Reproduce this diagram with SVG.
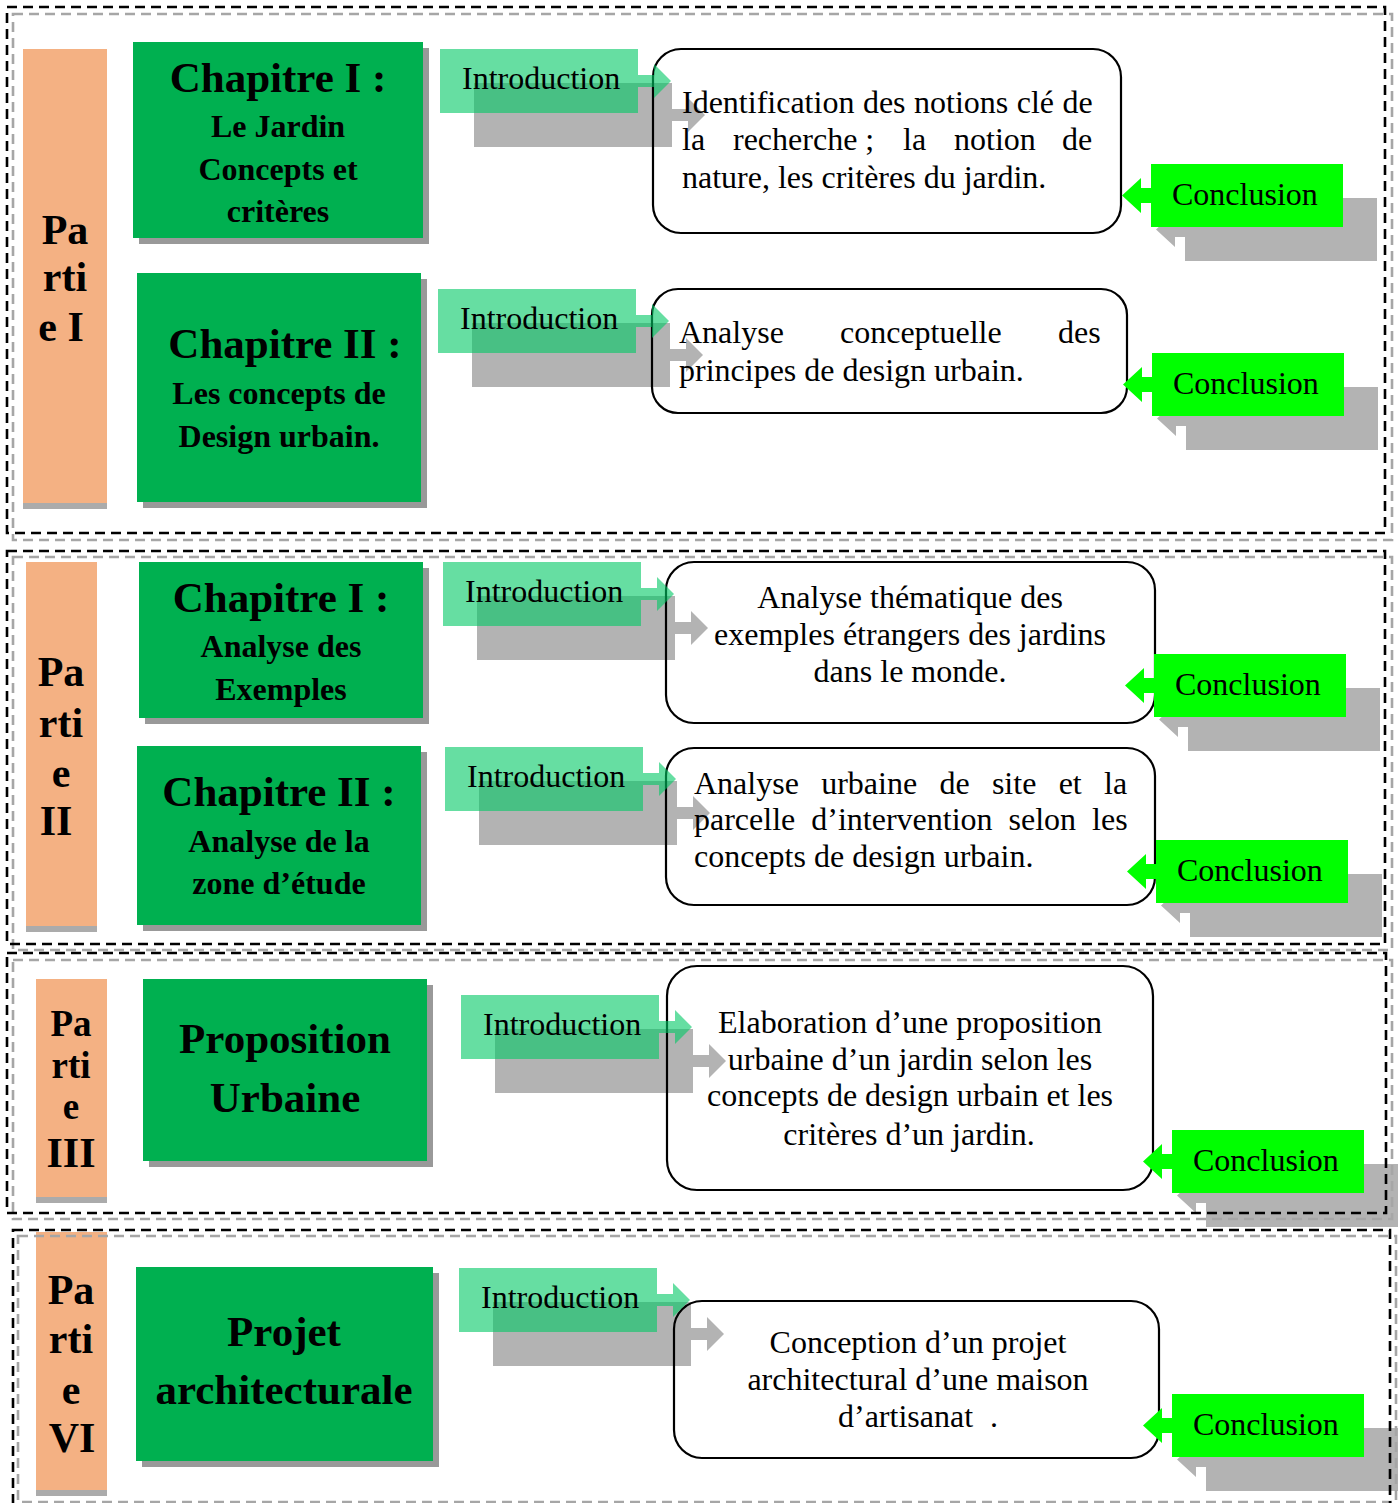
<svg xmlns="http://www.w3.org/2000/svg" width="1398" height="1503" viewBox="0 0 1398 1503">
<style>
.bg{fill:#fff}
.part{fill:#F4B183}
.partsh{fill:#ABABAB}
.chap{fill:#00B050}
.chapsh{fill:#999999}
.ash{fill:#B3B3B3}
.intro{fill:#00C864;fill-opacity:0.6}
.concl{fill:#00FF00}
.box{fill:none;stroke:#000;stroke-width:2.2}
.bd{fill:none;stroke:#000;stroke-width:2.6;stroke-dasharray:10 6}
.bg2{fill:none;stroke:#A6A6A6;stroke-width:2.6;stroke-dasharray:10 6}
.t{font-family:"Liberation Serif","Times New Roman",serif;font-size:32px;fill:#000}
.c{text-anchor:middle}
.pb{font-family:"Liberation Serif","Times New Roman",serif;font-weight:bold;font-size:42px;text-anchor:middle;fill:#000}
.h{font-family:"Liberation Serif","Times New Roman",serif;font-weight:bold;font-size:43px;text-anchor:middle;fill:#000}
.s{font-family:"Liberation Serif","Times New Roman",serif;font-weight:bold;font-size:32px;text-anchor:middle;fill:#000}
</style>
<defs>
<path id="ia" d="M0,0 H198 V26 H214 V15 L231,32 L214,49 V38 H198 V64 H0 Z"/>
<path id="ca" d="M0,0 H192 V63 H0 V39 H-10 V49 L-29,31.5 L-10,14 V24 H0 Z"/>
</defs>
<rect class="bg" x="0" y="0" width="1398" height="1503"/>

<g id="shadows">
<use href="#ia" class="ash" x="474" y="83"/>
<use href="#ia" class="ash" x="472" y="323"/>
<use href="#ia" class="ash" x="477" y="596"/>
<use href="#ia" class="ash" x="479" y="781"/>
<use href="#ia" class="ash" x="495" y="1029"/>
<use href="#ia" class="ash" x="493" y="1302"/>
<use href="#ca" class="ash" x="1185" y="198"/>
<use href="#ca" class="ash" x="1186" y="387"/>
<use href="#ca" class="ash" x="1188" y="688"/>
<use href="#ca" class="ash" x="1190" y="874"/>
<use href="#ca" class="ash" x="1206" y="1164"/>
<use href="#ca" class="ash" x="1206" y="1428"/>
</g>

<g id="partie1">
<rect class="partsh" x="23" y="55" width="84" height="454"/>
<rect class="part" x="23" y="49" width="84" height="454"/>
<text class="pb" x="65" y="244">Pa</text>
<text class="pb" x="65" y="291">rti</text>
<text class="pb" x="61" y="341">e I</text>
</g>
<g id="p1-chap1">
<rect class="chapsh" x="139" y="48" width="290" height="196"/>
<rect class="chap" x="133" y="42" width="290" height="196"/>
<text class="h" x="278" y="92">Chapitre I :</text>
<text class="s" x="278" y="137">Le Jardin</text>
<text class="s" x="278" y="180">Concepts et</text>
<text class="s" x="278" y="222">critères</text>
</g>
<g id="p1-chap2">
<rect class="chapsh" x="143" y="279" width="284" height="229"/>
<rect class="chap" x="137" y="273" width="284" height="229"/>
<text class="h" x="285" y="358">Chapitre II :</text>
<text class="s" x="279" y="404">Les concepts de</text>
<text class="s" x="279" y="447">Design urbain.</text>
</g>
<g id="p1-box1">
<rect class="box" x="653" y="49" width="468" height="184" rx="28"/>
</g>
<g id="p1-box2">
<rect class="box" x="652" y="289" width="475" height="124" rx="26"/>
</g>

<g id="partie2">
<rect class="partsh" x="26" y="568" width="71" height="364"/>
<rect class="part" x="26" y="562" width="71" height="364"/>
<text class="pb" x="61" y="686">Pa</text>
<text class="pb" x="61" y="737">rti</text>
<text class="pb" x="61" y="787">e</text>
<text class="pb" x="56" y="835">II</text>
</g>
<g id="p2-chap1">
<rect class="chapsh" x="145" y="568" width="284" height="156"/>
<rect class="chap" x="139" y="562" width="284" height="156"/>
<text class="h" x="281" y="612">Chapitre I :</text>
<text class="s" x="281" y="657">Analyse des</text>
<text class="s" x="281" y="700">Exemples</text>
</g>
<g id="p2-chap2">
<rect class="chapsh" x="143" y="752" width="284" height="179"/>
<rect class="chap" x="137" y="746" width="284" height="179"/>
<text class="h" x="279" y="806">Chapitre II :</text>
<text class="s" x="279" y="852">Analyse de la</text>
<text class="s" x="279" y="894">zone d’étude</text>
</g>
<g id="p2-box1">
<rect class="box" x="666" y="562" width="489" height="161" rx="28"/>
</g>
<g id="p2-box2">
<rect class="box" x="666" y="748" width="489" height="157" rx="28"/>
</g>

<g id="partie3">
<rect class="partsh" x="36" y="985" width="71" height="218"/>
<rect class="part" x="36" y="979" width="71" height="218"/>
<text class="pb" x="71" y="1036" style="font-size:37px">Pa</text>
<text class="pb" x="71" y="1078" style="font-size:37px">rti</text>
<text class="pb" x="71" y="1119" style="font-size:37px">e</text>
<text class="pb" x="71" y="1167">III</text>
</g>
<g id="p3-chap">
<rect class="chapsh" x="149" y="985" width="284" height="182"/>
<rect class="chap" x="143" y="979" width="284" height="182"/>
<text class="h" x="285" y="1053">Proposition</text>
<text class="h" x="285" y="1112">Urbaine</text>
</g>
<g id="p3-box">
<rect class="box" x="667" y="966" width="486" height="224" rx="30"/>
</g>

<g id="partie4">
<rect class="partsh" x="36" y="1238" width="71" height="258"/>
<rect class="part" x="36" y="1232" width="71" height="258"/>
<text class="pb" x="71" y="1304">Pa</text>
<text class="pb" x="71" y="1353">rti</text>
<text class="pb" x="71" y="1404">e</text>
<text class="pb" x="72" y="1452">VI</text>
</g>
<g id="p4-chap">
<rect class="chapsh" x="142" y="1273" width="297" height="194"/>
<rect class="chap" x="136" y="1267" width="297" height="194"/>
<text class="h" x="284" y="1346">Projet</text>
<text class="h" x="284" y="1404">architecturale</text>
</g>
<g id="p4-box">
<rect class="box" x="674" y="1301" width="485" height="157" rx="28"/>
</g>

<g id="connectors">
<g id="intro1"><use href="#ia" class="intro" x="440" y="49"/><text class="t" x="462" y="89">Introduction</text></g>
<g id="intro2"><use href="#ia" class="intro" x="438" y="289"/><text class="t" x="460" y="329">Introduction</text></g>
<g id="intro3"><use href="#ia" class="intro" x="443" y="562"/><text class="t" x="465" y="602">Introduction</text></g>
<g id="intro4"><use href="#ia" class="intro" x="445" y="747"/><text class="t" x="467" y="787">Introduction</text></g>
<g id="intro5"><use href="#ia" class="intro" x="461" y="995"/><text class="t" x="483" y="1035">Introduction</text></g>
<g id="intro6"><use href="#ia" class="intro" x="459" y="1268"/><text class="t" x="481" y="1308">Introduction</text></g>
<g id="concl1"><use href="#ca" class="concl" x="1151" y="164"/><text class="t" x="1172" y="205">Conclusion</text></g>
<g id="concl2"><use href="#ca" class="concl" x="1152" y="353"/><text class="t" x="1173" y="394">Conclusion</text></g>
<g id="concl3"><use href="#ca" class="concl" x="1154" y="654"/><text class="t" x="1175" y="695">Conclusion</text></g>
<g id="concl4"><use href="#ca" class="concl" x="1156" y="840"/><text class="t" x="1177" y="881">Conclusion</text></g>
<g id="concl5"><use href="#ca" class="concl" x="1172" y="1130"/><text class="t" x="1193" y="1171">Conclusion</text></g>
<g id="concl6"><use href="#ca" class="concl" x="1172" y="1394"/><text class="t" x="1193" y="1435">Conclusion</text></g>
</g>

<g id="box-texts">
<text class="t" x="682" y="113" word-spacing="0.5">Identification des notions clé de</text>
<text class="t" y="150"><tspan x="682">la</tspan><tspan x="733">recherche ;</tspan><tspan x="903">la</tspan><tspan x="954">notion</tspan><tspan x="1062">de</tspan></text>
<text class="t" x="682" y="188">nature, les critères du jardin.</text>
<text class="t" y="343"><tspan x="679">Analyse</tspan><tspan x="840">conceptuelle</tspan><tspan x="1058">des</tspan></text>
<text class="t" x="679" y="381">principes de design urbain.</text>
<text class="t c" x="910" y="608">Analyse thématique des</text>
<text class="t c" x="910" y="645">exemples étrangers des jardins</text>
<text class="t c" x="910" y="682">dans le monde.</text>
<text class="t" x="694" y="794" word-spacing="14.3">Analyse urbaine de site et la</text>
<text class="t" x="694" y="830" word-spacing="8">parcelle d’intervention selon les</text>
<text class="t" x="694" y="867">concepts de design urbain.</text>
<text class="t c" x="910" y="1033">Elaboration d’une proposition</text>
<text class="t c" x="910" y="1070">urbaine d’un jardin selon les</text>
<text class="t c" x="910" y="1106">concepts de design urbain et les</text>
<text class="t c" x="909" y="1145">critères d’un jardin.</text>
<text class="t c" x="918" y="1353">Conception d’un projet</text>
<text class="t c" x="918" y="1390">architectural d’une maison</text>
<text class="t" x="838" y="1427">d’artisanat</text>
<text class="t" x="990" y="1427">.</text>
</g>

<g id="frames">
<rect class="bg2" x="13" y="14" width="1379" height="526"/>
<rect class="bd" x="7" y="7" width="1378" height="526"/>
<rect class="bg2" x="13" y="557" width="1379" height="393"/>
<rect class="bd" x="7" y="551" width="1378" height="393"/>
<rect class="bg2" x="13" y="960" width="1379" height="259"/>
<rect class="bd" x="7" y="953" width="1379" height="260"/>
<rect class="bg2" x="18" y="1236" width="1378" height="266"/>
<rect class="bd" x="13" y="1230" width="1377" height="280"/>
</g>
</svg>
